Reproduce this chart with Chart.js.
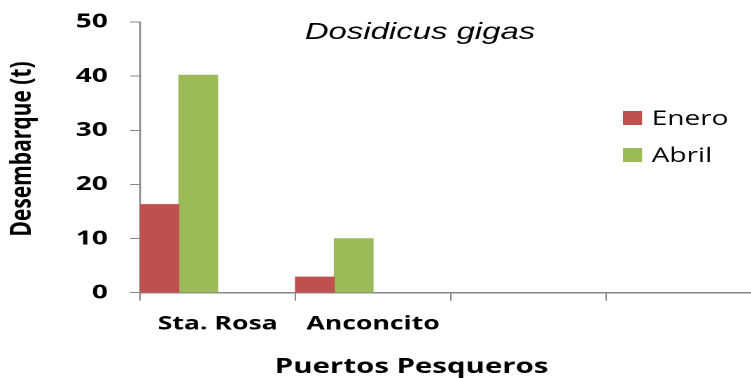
<!DOCTYPE html>
<html lang="es">
<head>
<meta charset="UTF-8">
<title>Desembarque Dosidicus gigas</title>
<script src="https://cdn.jsdelivr.net/npm/chart.js"></script>
<style>
    html, body {
        margin: 0;
        padding: 0;
        background: #ffffff;
        overflow: hidden;
        width: 751px;
        height: 378px;
    }
    /* the chart is laid out narrow and widened sideways, giving the wide lettering */
    #wrap {
        width: 544px;
        height: 378px;
        transform: scaleX(1.4);
        transform-origin: 0 0;
    }
</style>
</head>
<body>
<div id="wrap">
    <canvas id="chart" width="544" height="378"></canvas>
</div>
<script>
// ports on the x axis (two unused slots keep the axis four categories wide)
const puertos = ['Sta. Rosa', 'Anconcito', '', ''];
// landings in tonnes
const enero = [16.3, 2.9, null, null];
const abril = [40.2, 10.0, null, null];
const yTicks = [0, 10, 20, 30, 40, 50];

const rojo = '#C0504D';
const verde = '#9BBB59';
const gris = '#868686';

// titles and legend drawn over the plot
const rotulos = {
    id: 'rotulos',
    afterDraw(chart) {
        const ctx = chart.ctx;
        ctx.save();
        ctx.fillStyle = '#000';

        ctx.font = 'italic 23.5px "Liberation Sans", Arial, sans-serif';
        ctx.textAlign = 'center';
        ctx.textBaseline = 'alphabetic';
        ctx.fillText('Dosidicus gigas', 300, 39);

        ctx.font = 'bold 21px "Open Sans", sans-serif';
        ctx.fillText('Puertos Pesqueros', 294, 373);

        ctx.save();
        ctx.translate(16, 149);
        ctx.rotate(-Math.PI / 2);
        ctx.textBaseline = 'middle';
        ctx.fillText('Desembarque (t)', 0, 0);
        ctx.restore();

        // legend
        const items = chart.data.datasets.filter(d => d.label);
        ctx.font = '20px "Open Sans", sans-serif';
        ctx.textAlign = 'left';
        items.forEach((d, i) => {
            const y = 125 + i * 37;
            ctx.fillStyle = d.backgroundColor;
            ctx.fillRect(445, y - 14, 13.6, 14);
            ctx.fillStyle = '#000';
            ctx.fillText(d.label, 465.5, y);
        });
        ctx.restore();
    }
};

new Chart(document.getElementById('chart'), {
    type: 'bar',
    data: {
        labels: puertos,
        datasets: [
            { label: 'Enero', data: enero, backgroundColor: rojo },
            { label: 'Abril', data: abril, backgroundColor: verde },
            { label: '', data: [null, null, null, null], backgroundColor: rojo },
            { label: '', data: [null, null, null, null], backgroundColor: verde }
        ]
    },
    options: {
        responsive: false,
        devicePixelRatio: 2,
        animation: false,
        categoryPercentage: 1,
        barPercentage: 1,
        layout: { padding: { top: 22, right: 0, left: 0, bottom: 0 } },
        plugins: {
            legend: { display: false },
            title: { display: false },
            tooltip: { enabled: false }
        },
        scales: {
            x: {
                grid: {
                    offset: true,
                    drawOnChartArea: false,
                    color: gris,
                    tickLength: 8,
                    lineWidth: 1
                },
                border: { color: gris, width: 1.5 },
                ticks: {
                    color: '#000',
                    padding: 12,
                    maxRotation: 0,
                    autoSkip: false,
                    font: { family: '"Open Sans", sans-serif', size: 19, weight: 'bold' }
                },
                afterFit(scale) { scale.height = 85.3; }
            },
            y: {
                min: 0,
                max: 50,
                afterBuildTicks(scale) { scale.ticks = yTicks.map(v => ({ value: v })); },
                grid: {
                    drawOnChartArea: false,
                    color: gris,
                    tickLength: 7
                },
                border: { color: gris, width: 1.2 },
                ticks: {
                    color: '#000',
                    padding: 16,
                    font: { family: '"Open Sans", sans-serif', size: 20, weight: 'bold' }
                },
                afterFit(scale) {
                    scale.width = 100;
                    scale.paddingTop = 0;
                    scale.paddingBottom = 0;
                }
            }
        }
    },
    plugins: [rotulos]
});
</script>
</body>
</html>
